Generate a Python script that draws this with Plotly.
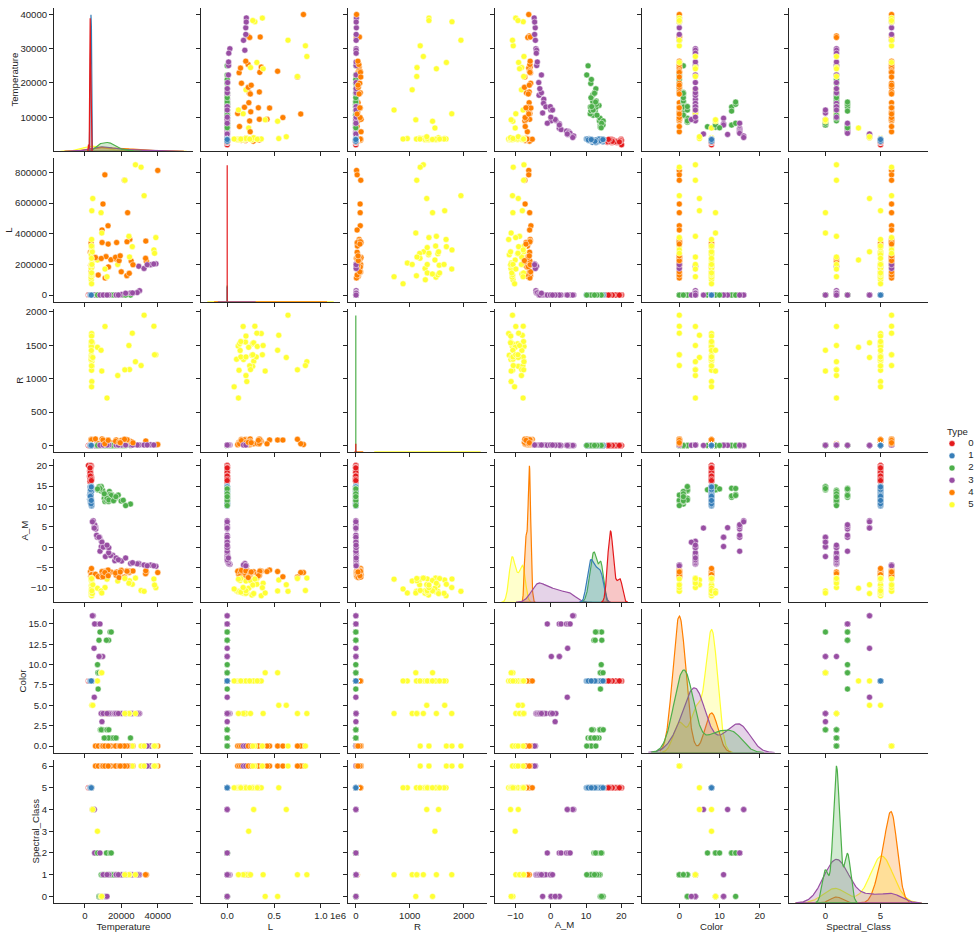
import numpy as np
import plotly.graph_objects as go

# ---------------- data (read from the reference pairplot) ----------------
# 40 stars per type; rows are stored in the dataset in blocks of ten per type.
temperature_t0 = [3068, 3042, 2600, 2800, 1939, 2840, 2637, 2600, 2650, 2700,
                  3341, 3432, 2983, 2835, 2935, 3295, 2945, 2817, 2774, 2871,
                  3323, 3531, 3218, 3146, 3511, 3225, 2935, 2861, 2856, 2731,
                  2831, 2914, 3419, 3218, 3453, 2889, 2968, 3484, 2778, 3523]
lum_t0 = [0.0024, 0.0005, 0.0003, 0.0002, 0.000138, 0.00065, 0.00073, 0.0004, 0.00069, 0.00018,
          0.0056, 0.00067, 0.00024, 0.00034, 0.00014, 0.00098, 0.00032, 0.00098, 0.00036, 0.00072,
          0.00043, 0.00093, 0.00054, 0.00015, 0.00064, 0.00076, 0.00087, 0.00019, 0.000896, 0.000437,
          0.000231, 0.000631, 0.000245, 0.000452, 0.000621, 0.000352, 0.000461, 0.000551, 0.000849, 0.000957]
radius_t0 = [0.17, 0.1542, 0.102, 0.16, 0.103, 0.11, 0.127, 0.096, 0.11, 0.13,
             0.057, 0.19, 0.094, 0.0918, 0.116, 0.132, 0.093, 0.0911, 0.118, 0.12,
             0.0912, 0.0976, 0.11, 0.0932, 0.109, 0.121, 0.0932, 0.0899, 0.0782, 0.0856,
             0.0915, 0.116, 0.126, 0.0987, 0.0773, 0.0973, 0.119, 0.0998, 0.112, 0.129]
absmag_t0 = [16.12, 16.6, 18.7, 16.65, 20.06, 16.98, 17.22, 17.4, 17.45, 16.05,
             16.23, 16.94, 16.09, 16.96, 18.89, 17.13, 18.34, 16.45, 17.39, 19.43,
             17.16, 19.94, 20.02, 16.92, 17.12, 19.63, 16.88, 16.71, 19.56, 18.09,
             16.21, 18.39, 17.56, 17.34, 17.08, 16.93, 17.45, 16.67, 19.45, 16.35]
color_t0 = [8] * 40
spectral_t0 = [5] * 40

temperature_t1 = [3600, 3129, 3134, 3628, 2650, 3340, 2799, 3692, 3192, 3441,
                  3345, 3607, 3304, 3150, 3550, 3180, 2890, 3342, 2621, 3158,
                  3095, 3607, 3100, 2989, 3542, 3243, 3091, 3598, 3324, 3541,
                  3598, 3142, 3496, 3324, 3463, 3409, 3241, 3367, 2960, 3470]
lum_t1 = [0.0029, 0.0122, 0.0004, 0.0055, 0.0006, 0.0038, 0.0018, 0.00367, 0.00362, 0.039,
          0.021, 0.022, 0.0085, 0.0088, 0.004, 0.001, 0.0034, 0.0015, 0.0006, 0.00135,
          0.00019, 0.00023, 0.008, 0.0087, 0.0009, 0.0023, 0.0081, 0.0011, 0.0034, 0.0013,
          0.0027, 0.00132, 0.00125, 0.0065, 0.0027, 0.0021, 0.0043, 0.0047, 0.0031, 0.0092]
radius_t1 = [0.51, 0.3761, 0.196, 0.393, 0.14, 0.24, 0.16, 0.47, 0.1967, 0.351,
             0.273, 0.38, 0.18, 0.35, 0.291, 0.35, 0.24, 0.307, 0.098, 0.161,
             0.492, 0.38, 0.31, 0.34, 0.62, 0.73, 0.24, 0.56, 0.34, 0.256,
             0.67, 0.258, 0.336, 0.471, 0.675, 0.57, 0.35, 0.42, 0.27, 0.52]
absmag_t1 = [10.69, 11.79, 13.21, 10.48, 11.782, 13.07, 14.79, 10.8, 13.53, 11.18,
             12.3, 10.12, 13.2, 11.94, 10.89, 11.76, 13.46, 11.87, 12.81, 13.98,
             10.87, 10.34, 11.17, 13.12, 14.23, 14.75, 11.43, 14.26, 12.23, 14.33,
             13.667, 14.12, 14.94, 12.78, 14.776, 11.81, 11.12, 10.65, 12.5, 11.47]
color_t1 = [8] * 40
spectral_t1 = [5] * 40

temperature_t2 = [25000, 7740, 7220, 8500, 16500, 12990, 8570, 7700, 11790, 7230,
                  7100, 10574, 8930, 17200, 14100, 9675, 12010, 10980, 13720, 19860,
                  13420, 21020, 18290, 14520, 11900, 8924, 12912, 14732, 7723, 12984,
                  8250, 13780, 14430, 6900, 12100, 13100, 15700, 10600, 22350, 16990]
lum_t2 = [0.056, 0.00049, 0.00017, 0.0005, 0.013, 0.000085, 0.00081, 0.00011, 0.00015, 0.00008,
          0.00029, 0.00014, 0.00056, 0.00098, 0.00067, 0.00045, 0.00078, 0.00074, 0.00018, 0.0011,
          0.00059, 0.0015, 0.0013, 0.00082, 0.00067, 0.00028, 0.00071, 0.00011, 0.00014, 0.00088,
          0.00021, 0.00038, 0.00019, 0.00031, 0.00062, 0.00048, 0.00085, 0.00029, 0.0019, 0.00091]
radius_t2 = [0.0084, 0.01234, 0.011, 0.01, 0.014, 0.00984, 0.0097, 0.0128, 0.011, 0.013,
             0.012, 0.0081, 0.0095, 0.015, 0.0089, 0.0109, 0.0092, 0.0087, 0.00892, 0.0131,
             0.00981, 0.0112, 0.00934, 0.00972, 0.00898, 0.00879, 0.00945, 0.00892, 0.00878, 0.00996,
             0.0096, 0.0092, 0.0098, 0.0118, 0.0091, 0.0095, 0.0102, 0.0089, 0.0108, 0.0113]
absmag_t2 = [10.58, 14.02, 14.23, 14.5, 11.89, 12.23, 14.2, 14.47, 12.59, 14.08,
             14.09, 12.02, 13.78, 12.45, 12.17, 13.98, 12.13, 11.19, 12.97, 11.34,
             13.67, 11.52, 12.78, 11.92, 11.38, 14.87, 12.83, 12.89, 14.81, 11.23,
             14.4, 12.95, 12.7, 14.3, 12.02, 11.6, 11.4, 13.1, 10.2, 12.4]
color_t2 = [1, 9, 9, 2, 1, 13, 2, 13, 13, 7,
            9, 1, 2, 1, 1, 2, 1, 1, 1, 0,
            1, 0, 0, 1, 1, 2, 1, 1, 9, 1,
            14, 14, 14, 10, 2, 2, 1, 1, 0, 1]
spectral_t2 = [1, 0, 2, 0, 1, 2, 0, 2, 2, 2,
               2, 1, 1, 1, 1, 1, 1, 1, 1, 1,
               1, 1, 1, 1, 1, 0, 1, 1, 0, 1,
               0, 2, 2, 2, 1, 1, 1, 1, 1, 1]

temperature_t3 = [39000, 30000, 15276, 9700, 5800, 8052, 6757, 6380, 5936, 5587,
                  5300, 4526, 4077, 4980, 9030, 11250, 5112, 7720, 12098, 36108,
                  29560, 8945, 14060, 16390, 25070, 28700, 26140, 20120, 13023, 37800,
                  9320, 8250, 10012, 13089, 17140, 18340, 22350, 32460, 34190, 12100]
lum_t3 = [204000, 28840, 1136, 74, 0.81, 8.7, 1.43, 1.35, 1.357, 0.819,
          0.59, 0.153, 0.085, 0.357, 45, 672, 0.63, 7.92, 689, 198000,
          188000, 38, 1092, 1278, 14500, 16790, 14520, 4720, 998, 202900,
          29, 9.25, 552, 788, 883, 1020, 12450, 173800, 198200, 120]
radius_t3 = [10.6, 6.3, 7.2, 2.89, 0.9, 1.8, 1.12, 0.98, 1.106, 0.99,
             0.91, 0.865, 0.795, 1.13, 2.63, 6.98, 0.876, 1.34, 7.01, 10.2,
             6.02, 2.487, 5.745, 5.68, 5.92, 6.4, 5.49, 6.78, 6.21, 6.86,
             1.91, 1.93, 5.856, 5.992, 5.653, 5.9, 6.36, 6.237, 6.39, 4.8]
absmag_t3 = [-4.7, -4.2, -1.97, 0.16, 5.05, 2.42, 2.41, 2.93, 4.46, 5.03,
             5.49, 6.506, 6.228, 4.78, 1.45, -2.3, 4.68, 2.44, 0.02, -4.4,
             -4.01, 0.12, -2.04, -3.32, -3.98, -4.09, -3.8, -3.4, -1.38, -4.56,
             1.236, -0.98, 0.013, -0.12, -2.64, -3.1, -2.64, -4.36, -4.57, 0.5]
color_t3 = [0, 4, 4, 11, 15, 11, 15, 15, 15, 15,
            15, 16, 16, 12, 4, 4, 6, 11, 4, 0,
            4, 4, 4, 4, 4, 4, 4, 4, 4, 0,
            3, 15, 4, 4, 4, 4, 4, 0, 0, 4]
spectral_t3 = [6, 1, 1, 1, 2, 0, 2, 2, 2, 2,
               2, 4, 4, 4, 0, 0, 4, 0, 0, 6,
               1, 0, 1, 1, 1, 1, 1, 1, 1, 6,
               0, 2, 1, 1, 1, 1, 1, 6, 6, 1]

temperature_t4 = [3826, 3365, 3270, 3200, 3008, 3600, 3575, 3574, 3625, 33750,
                  33300, 40000, 23000, 17120, 11096, 14245, 24630, 12893, 24345, 33421,
                  25390, 11567, 12675, 5752, 8927, 7282, 19923, 26373, 17383, 9373,
                  9383, 23440, 16787, 18734, 9892, 10930, 23095, 21738, 12749, 19360]
lum_t4 = [200000, 340000, 150000, 195000, 280000, 320000, 123000, 200000, 184000, 220000,
          240000, 813000, 127000, 235000, 112000, 231000, 363000, 184000, 142000, 352000,
          223000, 251000, 452000, 245000, 239000, 131000, 152000, 198000, 342900, 424520,
          342940, 537430, 246730, 224780, 593900, 783930, 347820, 748890, 332520, 256000]
radius_t4 = [19, 23, 88, 17, 25, 29, 45, 89, 84, 26,
             12, 14, 36, 83, 12, 42, 63, 36, 57, 67,
             57, 36, 83, 97, 35, 24, 73, 39, 30, 24,
             98, 81, 62, 46, 80, 25, 86, 92, 76, 41]
absmag_t4 = [-6.93, -6.2, -6.02, -7.22, -6.0, -6.6, -6.78, -5.24, -6.74, -6.1,
             -6.5, -6.23, -5.76, -6.89, -5.91, -6.12, -5.83, -6.34, -6.24, -5.79,
             -5.92, -6.245, -5.62, -6.63, -7.34, -7.22, -5.69, -5.83, -6.09, -5.99,
             -6.98, -5.975, -6.35, -7.45, -7.262, -6.224, -5.905, -7.346, -7.02, -6.08]
color_t4 = [8, 8, 8, 8, 8, 8, 8, 8, 8, 0] + [0] * 30
spectral_t4 = [5, 5, 5, 5, 5, 5, 5, 5, 5, 1, 1] + [6] * 29

temperature_t5 = [3490, 3750, 3834, 3749, 3650, 3450, 3660, 3450, 3752, 3535,
                  3459, 3605, 3615, 3399, 3610, 3553, 4015, 3625, 6850, 3780,
                  3570, 3500, 4287, 26000, 3600, 3614, 18000, 11000, 12100, 24490,
                  24145, 27739, 21904, 8829, 9235, 30839, 32489, 37882, 38940, 38234]
lum_t5 = [270000, 283000, 272000, 550000, 310000, 263000, 363000, 174000, 209000, 195000,
          100000, 126000, 200000, 117000, 132000, 145000, 282000, 74000, 229000, 200000,
          320000, 138000, 630000, 316000, 240000, 145000, 200000, 170000, 120000, 248490,
          382993, 849420, 748890, 537493, 404940, 834042, 648430, 294903, 374830, 272830]
radius_t5 = [1520, 1260, 1183, 1648, 1324, 1349, 1673, 1284, 955, 1546,
             1289, 1124, 1635, 1486, 1522, 1324, 1534, 876, 1467, 1324,
             1480, 1420, 1315, 1679, 1190, 1553, 1045, 1779, 708.9, 1134.5,
             1494, 1252, 1130, 1423, 1112, 1194, 1948.5, 1783, 1356, 1356]
absmag_t5 = [-9.4, -7.63, -9.2, -8.05, -7.79, -11.75, -11.92, -11.28, -11.24, -11.36,
             -10.7, -10.81, -11.33, -10.92, -10.86, -11.03, -11.39, -10.25, -10.07, -10.7,
             -7.58, -8.18, -9.2, -9.1, -7.89, -7.71, -8.3, -9.9, -7.84, -8.24,
             -8.84, -7.59, -7.67, -10.73, -11.23, -10.63, -10.84, -7.8, -9.93, -9.29]
color_t5 = [8, 8, 8, 5, 8, 8, 8, 8, 8, 8,
            8, 8, 8, 8, 8, 8, 8, 8, 8, 8,
            8, 8, 5, 0, 8, 8, 4, 4, 4, 4,
            4, 4, 4, 9, 9, 0, 0, 0, 0, 0]
spectral_t5 = [5, 5, 5, 5, 5, 5, 5, 5, 5, 5,
               5, 5, 5, 5, 5, 5, 4, 5, 3, 5,
               5, 5, 4, 6, 5, 5, 1, 1, 1, 1,
               1, 1, 1, 0, 0, 6, 6, 6, 6, 6]

type_labels = ["0", "1", "2", "3", "4", "5"]
variables = ["Temperature", "L", "R", "A_M", "Color", "Spectral_Class"]

x_tickvals = {"Temperature": [0, 20000, 40000], "L": [0, 500000, 1000000], "R": [0, 1000, 2000],
              "A_M": [-10, 0, 10, 20], "Color": [0, 10, 20], "Spectral_Class": [0, 5]}
x_ticktext = {"L": ["0.0", "0.5", "1.0"]}
y_tickvals = {"Temperature": [10000, 20000, 30000, 40000],
              "L": [0, 200000, 400000, 600000, 800000],
              "R": [0, 500, 1000, 1500, 2000],
              "A_M": [-10, -5, 0, 5, 10, 15, 20],
              "Color": [0, 2.5, 5, 7.5, 10, 12.5, 15],
              "Spectral_Class": [0, 1, 2, 3, 4, 5, 6]}
y_tickformat = {"Color": ".1f"}

# ---------------- assemble ----------------
by_type = {
    "Temperature": [temperature_t0, temperature_t1, temperature_t2, temperature_t3, temperature_t4, temperature_t5],
    "L": [lum_t0, lum_t1, lum_t2, lum_t3, lum_t4, lum_t5],
    "R": [radius_t0, radius_t1, radius_t2, radius_t3, radius_t4, radius_t5],
    "A_M": [absmag_t0, absmag_t1, absmag_t2, absmag_t3, absmag_t4, absmag_t5],
    "Color": [color_t0, color_t1, color_t2, color_t3, color_t4, color_t5],
    "Spectral_Class": [spectral_t0, spectral_t1, spectral_t2, spectral_t3, spectral_t4, spectral_t5],
}
palette = ["#e41a1c", "#377eb8", "#4daf4a", "#984ea3", "#ff7f00", "#ffff33"]
n_types = len(type_labels)

# dataset row order: blocks of ten rows per type
order = [(t, i) for b in range(4) for t in range(n_types) for i in range(b * 10, b * 10 + 10)]
columns = {v: np.array([by_type[v][t][i] for t, i in order], dtype=float) for v in variables}
row_types = [t for t, i in order]
n_total = len(order)


def kde(values):
    x = np.asarray(values, dtype=float)
    n = len(x)
    sd = x.std(ddof=1)
    if sd == 0:
        return None
    bw = sd * n ** (-0.2)
    g = np.linspace(x.min() - 3 * bw, x.max() + 3 * bw, 200)
    d = np.exp(-0.5 * ((g[:, None] - x[None, :]) / bw) ** 2).sum(axis=1) / (n * bw * np.sqrt(2 * np.pi))
    return g, d * n / n_total


kdes = {v: [kde(by_type[v][t]) for t in range(n_types)] for v in variables}


def pad(lo, hi, m=0.05):
    s = hi - lo
    return [lo - m * s, hi + m * s]


x_ranges, y_ranges = {}, {}
for v in variables:
    lo, hi = columns[v].min(), columns[v].max()
    y_ranges[v] = pad(lo, hi)
    for k in kdes[v]:
        if k is not None:
            lo, hi = min(lo, k[0].min()), max(hi, k[0].max())
    x_ranges[v] = pad(lo, hi)

# ---------------- figure ----------------
W, H = 980, 934
col_x0 = [54 + 147 * c for c in range(6)]
col_w = 139
row_y0 = [5 + 150.8 * r for r in range(6)]
row_h = 143.8
TXT = "#262626"
FONT = "Liberation Sans, Arial, sans-serif"
FS = 9.6

fig = go.Figure()
layout = dict(width=W, height=H, margin=dict(l=0, r=0, t=0, b=0),
              paper_bgcolor="white", plot_bgcolor="rgba(0,0,0,0)", showlegend=False,
              font=dict(family=FONT, size=FS, color=TXT))


def aname(p, k):
    return f"{p}axis" if k == 1 else f"{p}axis{k}"


def aref(p, k):
    return p if k == 1 else f"{p}{k}"


common = dict(showline=True, linecolor=TXT, linewidth=1, ticks="outside", ticklen=4,
              tickwidth=1, tickcolor=TXT, showgrid=False, zeroline=False,
              tickfont=dict(family=FONT, size=FS, color=TXT))


def xdom(c):
    return [col_x0[c] / W, (col_x0[c] + col_w) / W]


def ydom(r):
    return [1 - (row_y0[r] + row_h) / H, 1 - row_y0[r] / H]


# density curves on the diagonal go on hidden axes 1..6 that cover the diagonal panels
for r, v in enumerate(variables):
    kd = r + 1
    dmax = max(kk[1].max() for kk in kdes[v] if kk is not None)
    layout[aname("x", kd)] = dict(domain=xdom(r), range=x_ranges[v], visible=False,
                                  anchor=aref("y", kd), showgrid=False, zeroline=False)
    layout[aname("y", kd)] = dict(domain=ydom(r), range=[0, dmax * 1.05], visible=False,
                                  anchor=aref("x", kd), showgrid=False, zeroline=False)
    for t in reversed(range(n_types)):
        kk = kdes[v][t]
        if kk is None:
            continue
        g, d = kk
        hexc = palette[t].lstrip("#")
        rgb = tuple(int(hexc[i:i + 2], 16) for i in (0, 2, 4))
        fig.add_trace(go.Scatter(
            x=np.concatenate([g, g[::-1]]), y=np.concatenate([d, np.zeros_like(d)]),
            mode="lines", fill="toself", fillcolor=f"rgba({rgb[0]},{rgb[1]},{rgb[2]},0.25)",
            line=dict(color=palette[t], width=1.2),
            xaxis=aref("x", kd), yaxis=aref("y", kd), hoverinfo="skip"))

# the 6 x 6 panels on axes 7..42
for r, vy in enumerate(variables):
    for c, vx in enumerate(variables):
        k = r * 6 + c + 7
        xa = dict(common, domain=xdom(c), anchor=aref("y", k), range=x_ranges[vx],
                  tickvals=x_tickvals[vx], tickformat="d", showticklabels=(r == 5))
        if vx in x_ticktext:
            xa["ticktext"] = x_ticktext[vx]
            xa.pop("tickformat")
        if r == 5:
            xa["title"] = dict(text=vx, standoff=0, font=dict(family=FONT, size=FS, color=TXT))
        ya = dict(common, domain=ydom(r), anchor=aref("x", k), range=y_ranges[vy],
                  tickvals=y_tickvals[vy], tickformat=y_tickformat.get(vy, "d"),
                  showticklabels=(c == 0))
        if c == 0:
            ya["title"] = dict(text=vy, standoff=0, font=dict(family=FONT, size=FS, color=TXT))
        layout[aname("x", k)] = xa
        layout[aname("y", k)] = ya

        if r != c:
            fig.add_trace(go.Scatter(
                x=columns[vx], y=columns[vy], mode="markers", xaxis=aref("x", k), yaxis=aref("y", k),
                marker=dict(size=6, color=[palette[t] for t in row_types],
                            line=dict(color="white", width=0.5)),
                hoverinfo="skip"))
        else:
            # empty trace so the diagonal panel keeps its own axes
            fig.add_trace(go.Scatter(x=[], y=[], mode="markers", xaxis=aref("x", k),
                                     yaxis=aref("y", k), hoverinfo="skip"))

# legend drawn on its own hidden axes
kl = 43
layout[aname("x", kl)] = dict(domain=[940 / W, 980 / W], range=[-0.632, 1.474], visible=False,
                              anchor=aref("y", kl), showgrid=False, zeroline=False)
layout[aname("y", kl)] = dict(domain=[1 - 509 / H, 1 - 436 / H], range=[5.46, -0.49], visible=False,
                              anchor=aref("x", kl), showgrid=False, zeroline=False)
fig.add_trace(go.Scatter(x=[0] * n_types, y=list(range(n_types)), mode="markers",
                         marker=dict(size=6, color=palette, line=dict(color="white", width=0.5)),
                         xaxis=aref("x", kl), yaxis=aref("y", kl), hoverinfo="skip"))
fig.add_trace(go.Scatter(x=[1] * n_types, y=list(range(n_types)), mode="text", text=type_labels,
                         textfont=dict(family=FONT, size=FS, color=TXT),
                         xaxis=aref("x", kl), yaxis=aref("y", kl), hoverinfo="skip"))

layout["annotations"] = [
    dict(text="Type", x=957 / W, y=1 - 430 / H, xref="paper", yref="paper", showarrow=False,
         xanchor="center", yanchor="middle", font=dict(family=FONT, size=FS, color=TXT)),
    dict(text="1e6", x=327.5 / W, y=1 - 915 / H, xref="paper", yref="paper",
         showarrow=False, xanchor="left", yanchor="middle", font=dict(family=FONT, size=FS, color=TXT)),
]

fig.update_layout(**layout)
fig.write_html("out.html", config={"displayModeBar": False},
               post_script="document.body.style.margin='0px';")
